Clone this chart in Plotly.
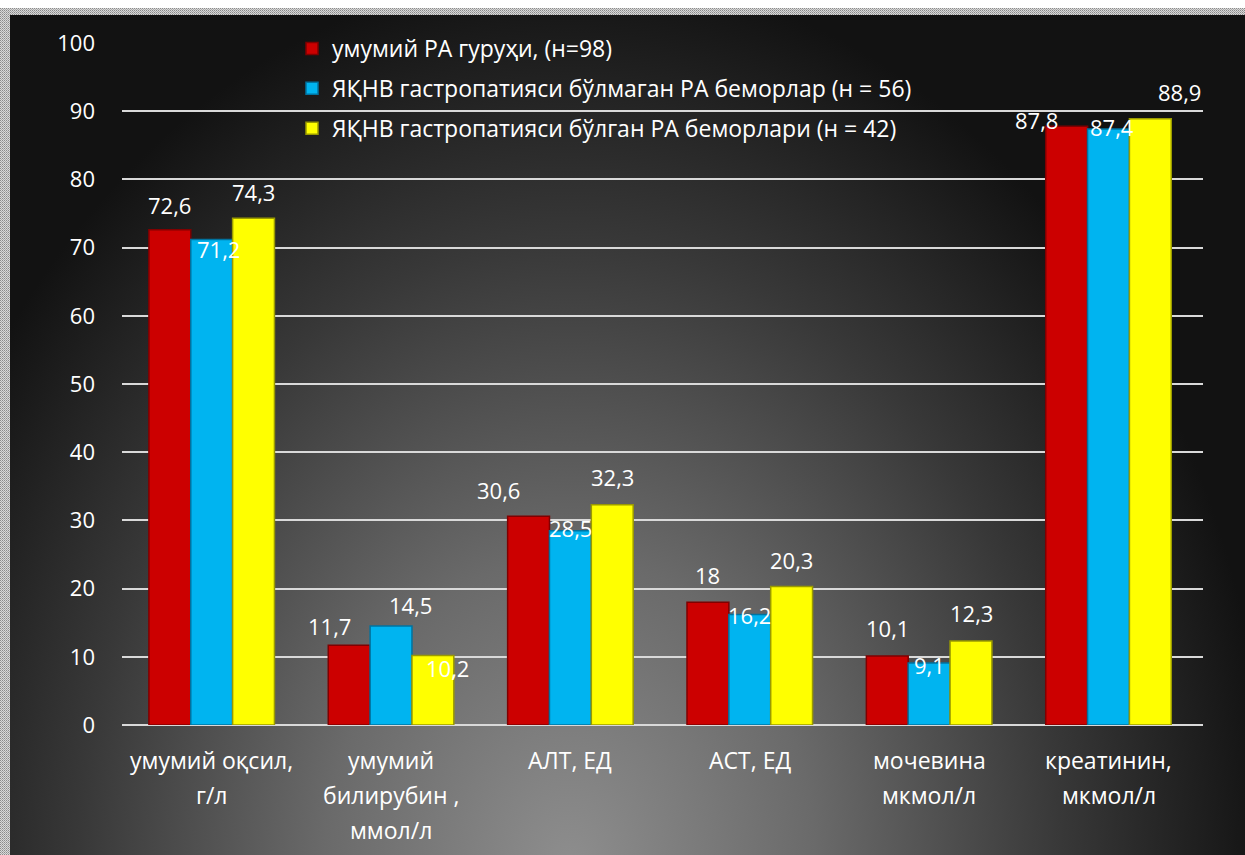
import base64
import plotly.graph_objects as go

# ---- data -------------------------------------------------------------
category_lines = [
    ["умумий оқсил,", "г/л"],
    ["умумий", "билирубин ,", "ммол/л"],
    ["АЛТ, ЕД"],
    ["АСТ, ЕД"],
    ["мочевина", "мкмол/л"],
    ["креатинин,", "мкмол/л"],
]
categories = [" ".join(lines) for lines in category_lines]

series_names = [
    "умумий РА гуруҳи, (н=98)",
    "ЯҚНВ гастропатияси бўлмаган РА беморлар (н = 56)",
    "ЯҚНВ гастропатияси бўлган РА беморлари (н = 42)",
]
all_ra = [72.6, 11.7, 30.6, 18, 10.1, 87.8]
no_gastropathy = [71.2, 14.5, 28.5, 16.2, 9.1, 87.4]
with_gastropathy = [74.3, 10.2, 32.3, 20.3, 12.3, 88.9]

y_ticks = [0, 10, 20, 30, 40, 50, 60, 70, 80, 90, 100]

# ---- style ------------------------------------------------------------
W, H = 1245, 855
M_L, M_R, M_T, M_B = 122, 42, 43, 130
FONT = "Open Sans"
TEXT_SIZE = 23
NUM_SIZE = 22
colors = ["#cc0000", "#00b4f0", "#ffff00"]
edge_colors = ["#800000", "#0073a0", "#9a9a00"]
bar_step = 42  # horizontal pixel offset between neighbouring bars in a group

# label nudges in pixels (dx right, dy down) relative to the bar top
label_dx = [
    [0, -20, -30, 0, 0, -30],
    [7, 19, 0, 0, 0, 3],
    [0, 14, 0, 0, 0, 29],
]
label_dy = [
    [-25, -19, -26, -27, -28, -6],
    [10, -21, -3, 0, 2, -2],
    [-26, 13, -28, -27, -28, -27],
]

series_values = [all_ra, no_gastropathy, with_gastropathy]


def fmt(v):
    return f"{v:g}".replace(".", ",")


# background: dark radial gradient framed by a light dotted border
bg_svg = f"""<svg xmlns='http://www.w3.org/2000/svg' width='{W}' height='{H}' viewBox='0 0 {W} {H}'>
<defs>
<pattern id='dots' width='2' height='2' patternUnits='userSpaceOnUse'>
<rect width='2' height='2' fill='#d8d8d8'/><rect width='1' height='1' fill='#8a8a8a'/>
<rect x='1' y='1' width='1' height='1' fill='#a8a8a8'/></pattern>
<radialGradient id='g' gradientUnits='userSpaceOnUse' cx='570' cy='870' r='900'
 gradientTransform='translate(570 870) scale(0.78 1) translate(-570 -870)'>
<stop offset='0' stop-color='#8e8e8e'/>
<stop offset='0.35' stop-color='#6a6a6a'/>
<stop offset='0.7' stop-color='#383838'/>
<stop offset='1' stop-color='#121212'/>
</radialGradient>
</defs>
<rect width='{W}' height='{H}' fill='#ffffff'/>
<rect y='8' width='{W}' height='{H - 8}' fill='url(#dots)'/>
<rect x='10' y='15' width='{W - 10}' height='{H - 15}' fill='#0c0c0c'/>
<rect x='10' y='15' width='{W - 10}' height='{H - 15}' fill='url(#g)'/>
</svg>"""
bg_uri = "data:image/svg+xml;base64," + base64.b64encode(bg_svg.encode("utf-8")).decode()

plot_w = W - M_L - M_R
plot_h = H - M_T - M_B

fig = go.Figure()
for i, (name, vals) in enumerate(zip(series_names, series_values)):
    fig.add_trace(
        go.Bar(
            x=categories,
            y=vals,
            name=name,
            legendgroup=f"g{i}",
            marker=dict(color=colors[i], line=dict(color=edge_colors[i], width=1.5)),
        )
    )

annotations = []
for i, vals in enumerate(series_values):
    for j, v in enumerate(vals):
        annotations.append(
            dict(
                x=categories[j],
                y=v,
                xref="x",
                yref="y",
                text=fmt(v),
                showarrow=False,
                xanchor="center",
                yanchor="middle",
                xshift=(i - 1) * bar_step + label_dx[i][j],
                yshift=-label_dy[i][j],
                font=dict(family=FONT, size=NUM_SIZE, color="#ffffff"),
            )
        )

# category labels, one line per annotation for wider line spacing
for j, lines in enumerate(category_lines):
    for k, line in enumerate(lines):
        annotations.append(
            dict(
                x=categories[j],
                y=0,
                xref="x",
                yref="paper",
                text=line,
                showarrow=False,
                xanchor="center",
                yanchor="middle",
                yshift=-35 - 35 * k,
                font=dict(family=FONT, size=TEXT_SIZE, color="#ffffff"),
            )
        )

fig.update_layout(
    width=W,
    height=H,
    margin=dict(l=M_L, r=M_R, t=M_T, b=M_B, pad=0),
    paper_bgcolor="#ffffff",
    plot_bgcolor="rgba(0,0,0,0)",
    barmode="group",
    bargap=0.3,
    bargroupgap=0.0,
    font=dict(family=FONT, size=TEXT_SIZE, color="#ffffff"),
    showlegend=True,
    legend=dict(
        x=(292 - M_L) / plot_w,
        y=1.0 + 16 / plot_h,
        xanchor="left",
        yanchor="top",
        bgcolor="rgba(0,0,0,0)",
        traceorder="grouped",
        tracegroupgap=7,
        font=dict(family=FONT, size=TEXT_SIZE, color="#ffffff"),
        itemclick=False,
    ),
    images=[
        dict(
            source=bg_uri,
            xref="paper",
            yref="paper",
            x=-M_L / plot_w,
            y=1 + M_T / plot_h,
            sizex=W / plot_w,
            sizey=H / plot_h,
            xanchor="left",
            yanchor="top",
            sizing="stretch",
            layer="below",
        )
    ],
    annotations=annotations,
)

fig.update_xaxes(
    showticklabels=False,
    showgrid=False,
    zeroline=False,
    showline=False,
    ticks="",
)
fig.update_yaxes(
    range=[0, 100],
    tickvals=y_ticks,
    ticktext=[str(t) for t in y_ticks],
    showgrid=True,
    gridcolor="#d9d9d9",
    gridwidth=2,
    zeroline=True,
    zerolinecolor="#d9d9d9",
    zerolinewidth=2,
    showline=False,
    ticks="",
    ticklabelstandoff=26,
    tickfont=dict(family=FONT, size=NUM_SIZE, color="#ffffff"),
)

fig.write_html("out.html")
